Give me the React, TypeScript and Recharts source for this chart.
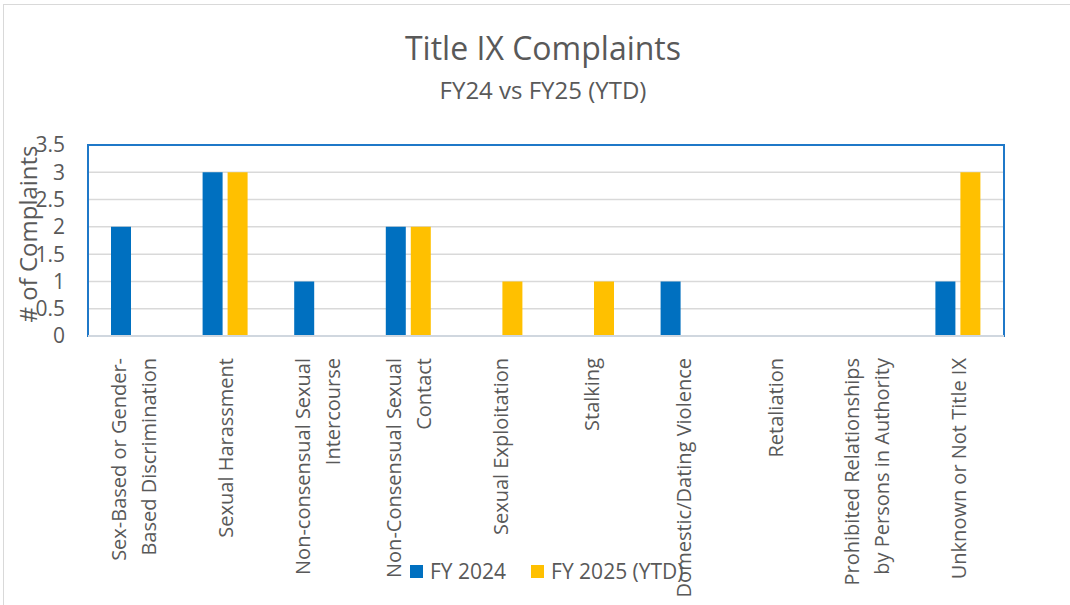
import { BarChart, Bar, XAxis, YAxis, CartesianGrid, ReferenceArea } from 'recharts';

const categories = [
  'Sex-Based or Gender-Based Discrimination',
  'Sexual Harassment',
  'Non-consensual Sexual Intercourse',
  'Non-Consensual Sexual Contact',
  'Sexual Exploitation',
  'Stalking',
  'Domestic/Dating Violence',
  'Retaliation',
  'Prohibited Relationships by Persons in Authority',
  'Unknown or Not Title IX',
];

// wrapped tick labels, as shown under the axis
const tickLines = [
  ['Sex-Based or Gender-', 'Based Discrimination'],
  ['Sexual Harassment'],
  ['Non-consensual Sexual', 'Intercourse'],
  ['Non-Consensual Sexual', 'Contact'],
  ['Sexual Exploitation'],
  ['Stalking'],
  ['Domestic/Dating Violence'],
  ['Retaliation'],
  ['Prohibited Relationships', 'by Persons in Authority'],
  ['Unknown or Not Title IX'],
];

const fy2024 = [2, 3, 1, 2, 0, 0, 1, 0, 0, 1];
const fy2025 = [0, 3, 0, 2, 1, 1, 0, 0, 0, 3];

const yTicks = [0, 0.5, 1, 1.5, 2, 2.5, 3, 3.5];

const series = [
  { key: 'fy2024', name: 'FY 2024', color: '#0070C0' },
  { key: 'fy2025', name: 'FY 2025 (YTD)', color: '#FFC000' },
];

const data = categories.map((c, i) => ({
  category: c,
  fy2024: fy2024[i],
  fy2025: fy2025[i],
}));

const TEXT = '#595959';
const FONT = '"Open Sans", sans-serif';

function CategoryTick({ x, y, payload }: any) {
  const lines = tickLines[payload.index] ?? [payload.value];
  const gap = 30;
  return (
    <g>
      {lines.map((line, i) => {
        const dx = (i - (lines.length - 1) / 2) * gap;
        return (
          <text
            key={i}
            x={0}
            y={0}
            transform={`translate(${x + dx},${y + 14}) rotate(-90)`}
            textAnchor="end"
            dominantBaseline="central"
            fontSize={20}
            fontFamily={FONT}
            fill={TEXT}
          >
            {line}
          </text>
        );
      })}
    </g>
  );
}

export default function App() {
  return (
    <div style={{ position: 'absolute', left: 0, top: 0, width: 1070, height: 605, background: '#fff', overflow: 'hidden' }}>
      <div
        style={{
          position: 'absolute',
          left: 3,
          top: 4,
          width: 1070,
          height: 605,
          borderLeft: '1.5px solid #D9D9D9',
          borderTop: '1.5px solid #D9D9D9',
        }}
      />
      <div
        style={{
          position: 'absolute',
          top: 28,
          left: 0,
          width: 1086,
          textAlign: 'center',
          fontFamily: FONT,
          color: TEXT,
          fontSize: 32,
          lineHeight: '40px',
        }}
      >
        Title IX Complaints
      </div>
      <div
        style={{
          position: 'absolute',
          top: 75,
          left: 0,
          width: 1086,
          textAlign: 'center',
          fontFamily: FONT,
          color: TEXT,
          fontSize: 24,
          lineHeight: '30px',
        }}
      >
        FY24 vs FY25 (YTD)
      </div>
      <div style={{ position: 'absolute', left: 0, top: 0 }}>
        <BarChart
          width={1070}
          height={605}
          data={data}
          margin={{ top: 145, right: 66, bottom: 0, left: 38 }}
          barSize={20}
          barGap={5}
        >
          <CartesianGrid vertical={false} stroke="#D9D9D9" strokeWidth={1.5} />
          <ReferenceArea y1={0} y2={3.5} fill="none" stroke="#1F78C8" strokeWidth={2} ifOverflow="visible" />
          <XAxis
            dataKey="category"
            interval={0}
            height={269}
            tickLine={false}
            axisLine={{ stroke: '#D0D7DF', strokeWidth: 2 }}
            tick={<CategoryTick />}
          />
          <YAxis
            width={50}
            domain={[0, 3.5]}
            ticks={yTicks}
            interval={0}
            tickLine={false}
            axisLine={false}
            tickSize={0}
            tickMargin={23}
            tick={{ fontSize: 21, fill: TEXT, fontFamily: FONT }}
          />
          {series.map((s) => (
            <Bar key={s.key} dataKey={s.key} name={s.name} fill={s.color} isAnimationActive={false} />
          ))}
        </BarChart>
      </div>
      <svg width={60} height={605} style={{ position: 'absolute', left: 0, top: 0 }}>
        <text
          x={0}
          y={0}
          transform="translate(27,234) rotate(-90)"
          textAnchor="middle"
          dominantBaseline="central"
          fontSize={24}
          fontFamily={FONT}
          fill={TEXT}
        >
          # of Complaints
        </text>
      </svg>
      <div
        style={{
          position: 'absolute',
          top: 557,
          left: 410,
          display: 'flex',
          alignItems: 'center',
          fontFamily: FONT,
          fontSize: 21,
          color: TEXT,
          whiteSpace: 'nowrap',
        }}
      >
        {series.map((s, i) => (
          <div key={s.key} style={{ display: 'flex', alignItems: 'center', marginRight: i === 0 ? 25 : 0 }}>
            <span style={{ width: 13, height: 13, background: s.color, display: 'inline-block', marginRight: 7 }} />
            <span>{s.name}</span>
          </div>
        ))}
      </div>
    </div>
  );
}
